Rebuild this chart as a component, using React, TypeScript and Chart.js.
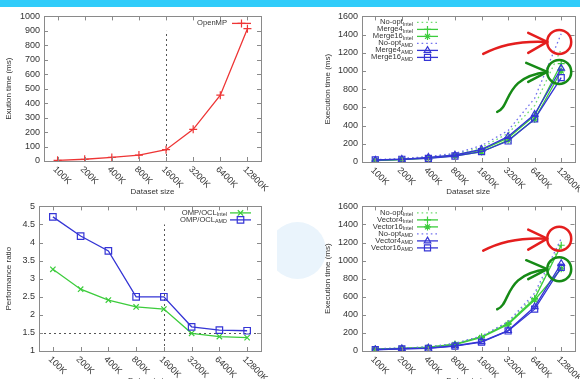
import React, { useEffect, useRef } from 'react';
import { Chart, registerables } from 'chart.js';

Chart.register(...registerables);

const FONT = '"Liberation Sans", Arial, Helvetica, sans-serif';
const INK = '#333333';
const FRAME = '#8a8a8a';
const RED = '#ee3535';
const GREEN = '#3ccc3c';
const GREEN_DOT = '#6fdc6f';
const BLUE = '#3535d5';
const BLUE_DOT = '#7272ee';
const MARK_RED = '#e41e1e';
const MARK_GREEN = '#168a16';

const categories = ['100K', '200K', '400K', '800K', '1600K', '3200K', '6400K', '12800K'];
const xAxisTitle = 'Dataset size';

// top-left: OpenMP
const openMPTime = [5, 12, 25, 41, 78, 219, 455, 915];

// top-right: Merge
const mergeNoOptIntel = [22, 35, 55, 88, 158, 315, 620, 1240];
const merge4Intel = [16, 28, 45, 72, 130, 265, 510, 1080];
const merge16Intel = [15, 27, 42, 68, 110, 240, 470, 1000];
const mergeNoOptAMD = [25, 38, 60, 95, 180, 345, 700, 1410];
const merge4AMD = [20, 29, 51, 77, 139, 279, 524, 1030];
const merge16AMD = [24, 30, 40, 66, 114, 231, 473, 927];
const mergeCircleValues = [1320, 990];

// bottom-left: performance ratio
const ratioIntel = [3.26, 2.71, 2.41, 2.22, 2.16, 1.49, 1.4, 1.37];
const ratioAMD = [4.71, 4.18, 3.77, 2.5, 2.5, 1.67, 1.58, 1.56];
const ratioThreshold = 1.5;

// bottom-right: Vector
const vectorNoOptIntel = [24, 32, 44, 82, 160, 315, 610, 1200];
const vector4Intel = [22, 30, 42, 77, 158, 305, 581, 1170];
const vector16Intel = [20, 28, 40, 72, 150, 295, 565, 910];
const vectorNoOptAMD = [25, 33, 45, 85, 165, 324, 640, 1245];
const vector4AMD = [15, 25, 32, 58, 103, 226, 489, 967];
const vector16AMD = [14, 24, 30, 55, 98, 222, 463, 925];
const vectorCircleValues = [1243, 905];

type PointKind = 'cross' | 'crossRot' | 'star' | 'triangle' | 'rect';
type S = { name: string; sub: string; values: number[]; color: string; dash?: number[]; point?: PointKind; radius?: number };
type Panel = {
  box: [number, number, number, number];
  yWidth: number; xHeight: number; padTop: number; padRight: number;
  yMin: number; yMax: number; yStep: number;
  yTitle: string; yTitleX: number; xTitleY: number;
  series: S[];
  legend: { side: 'left' | 'right'; textEnd: number; s0: number; s1: number; top: number; gap: number };
  vLine?: { at: number; to: number };
  hLine?: number;
  circles?: number[];
  bg?: string;
};

const DOT = [1.6, 3];

const panels: Panel[] = [
  {
    box: [0, 7, 290, 190], yWidth: 44, xHeight: 36, padTop: 9, padRight: 29,
    yMin: 0, yMax: 1000, yStep: 100,
    yTitle: 'Exution time (ms)', yTitleX: 9, xTitleY: 185,
    series: [{ name: 'OpenMP', sub: '', values: openMPTime, color: RED, point: 'cross', radius: 4 }],
    legend: { side: 'right', textEnd: -34, s0: -29, s1: -10, top: 7, gap: 7 },
    vLine: { at: 4, to: 900 },
  },
  {
    box: [290, 7, 290, 190], yWidth: 72, xHeight: 35, padTop: 9, padRight: 2,
    yMin: 0, yMax: 1600, yStep: 200,
    yTitle: 'Execution time (ms)', yTitleX: 38, xTitleY: 185,
    series: [
      { name: 'No-opt', sub: 'Intel', values: mergeNoOptIntel, color: GREEN_DOT, dash: DOT },
      { name: 'Merge4', sub: 'Intel', values: merge4Intel, color: GREEN, point: 'cross', radius: 3.5 },
      { name: 'Merge16', sub: 'Intel', values: merge16Intel, color: GREEN, point: 'star', radius: 3.5 },
      { name: 'No-opt', sub: 'AMD', values: mergeNoOptAMD, color: BLUE_DOT, dash: DOT },
      { name: 'Merge4', sub: 'AMD', values: merge4AMD, color: BLUE, point: 'triangle', radius: 3.8 },
      { name: 'Merge16', sub: 'AMD', values: merge16AMD, color: BLUE, point: 'rect', radius: 4.3 },
    ],
    legend: { side: 'left', textEnd: 51, s0: 55, s1: 76, top: 6, gap: 7 },
    circles: mergeCircleValues,
  },
  {
    box: [0, 197, 277, 182], yWidth: 39, xHeight: 28, padTop: 9, padRight: 16,
    yMin: 1, yMax: 5, yStep: 0.5,
    yTitle: 'Performance ratio', yTitleX: 9, xTitleY: 184,
    series: [
      { name: 'OMP/OCL', sub: 'Intel', values: ratioIntel, color: GREEN, point: 'crossRot', radius: 3.8 },
      { name: 'OMP/OCL', sub: 'AMD', values: ratioAMD, color: BLUE, point: 'rect', radius: 4.6 },
    ],
    legend: { side: 'right', textEnd: -34, s0: -31, s1: -10, top: 6.5, gap: 7 },
    vLine: { at: 4, to: 4.5 },
    hLine: ratioThreshold,
    bg: '#ffffff',
  },
  {
    box: [290, 197, 290, 182], yWidth: 72, xHeight: 28, padTop: 9, padRight: 2,
    yMin: 0, yMax: 1600, yStep: 200,
    yTitle: 'Execution time (ms)', yTitleX: 38, xTitleY: 184,
    series: [
      { name: 'No-opt', sub: 'Intel', values: vectorNoOptIntel, color: GREEN_DOT, dash: DOT },
      { name: 'Vector4', sub: 'Intel', values: vector4Intel, color: GREEN, point: 'cross', radius: 3.5 },
      { name: 'Vector16', sub: 'Intel', values: vector16Intel, color: GREEN, point: 'star', radius: 3.5 },
      { name: 'No-opt', sub: 'AMD', values: vectorNoOptAMD, color: BLUE_DOT, dash: DOT },
      { name: 'Vector4', sub: 'AMD', values: vector4AMD, color: BLUE, point: 'triangle', radius: 3.8 },
      { name: 'Vector16', sub: 'AMD', values: vector16AMD, color: BLUE, point: 'rect', radius: 4.3 },
    ],
    legend: { side: 'left', textEnd: 51, s0: 55, s1: 76, top: 6.5, gap: 7 },
    circles: vectorCircleValues,
  },
];

function drawMarker(ctx: CanvasRenderingContext2D, kind: PointKind, x: number, y: number, r: number, color: string) {
  ctx.save();
  ctx.strokeStyle = color;
  ctx.lineWidth = 1.2;
  ctx.setLineDash([]);
  ctx.beginPath();
  const d = r * Math.SQRT1_2;
  if (kind === 'cross' || kind === 'star') {
    ctx.moveTo(x - r, y); ctx.lineTo(x + r, y); ctx.moveTo(x, y - r); ctx.lineTo(x, y + r);
  }
  if (kind === 'crossRot' || kind === 'star') {
    ctx.moveTo(x - d, y - d); ctx.lineTo(x + d, y + d); ctx.moveTo(x + d, y - d); ctx.lineTo(x - d, y + d);
  }
  if (kind === 'triangle') {
    ctx.moveTo(x, y - r); ctx.lineTo(x + 0.866 * r, y + 0.5 * r); ctx.lineTo(x - 0.866 * r, y + 0.5 * r); ctx.closePath();
  }
  if (kind === 'rect') {
    ctx.rect(x - d, y - d, 2 * d, 2 * d);
  }
  ctx.stroke();
  ctx.restore();
}

function drawRedMark(ctx: CanvasRenderingContext2D, cx: number, cy: number) {
  ctx.strokeStyle = MARK_RED;
  ctx.beginPath(); ctx.arc(cx, cy, 12, 0, Math.PI * 2); ctx.stroke();
  ctx.beginPath(); ctx.moveTo(cx - 76, cy + 12); ctx.quadraticCurveTo(cx - 50, cy - 2, cx - 12, cy); ctx.stroke();
  ctx.beginPath(); ctx.moveTo(cx - 31, cy - 9); ctx.lineTo(cx - 12, cy); ctx.lineTo(cx - 31, cy + 11); ctx.stroke();
}

function drawGreenMark(ctx: CanvasRenderingContext2D, cx: number, cy: number) {
  ctx.strokeStyle = MARK_GREEN;
  ctx.beginPath(); ctx.arc(cx, cy, 12, 0, Math.PI * 2); ctx.stroke();
  ctx.beginPath(); ctx.moveTo(cx - 62, cy + 40); ctx.bezierCurveTo(cx - 48, cy + 35, cx - 56, cy + 5, cx - 12, cy); ctx.stroke();
  ctx.beginPath(); ctx.moveTo(cx - 33, cy - 9); ctx.lineTo(cx - 12, cy); ctx.lineTo(cx - 31, cy + 10); ctx.stroke();
}

function makePlugin(p: Panel) {
  return {
    id: 'panelDeco',
    beforeDatasetsDraw(chart: any) {
      const { ctx, chartArea: a, scales } = chart;
      const x = scales.x, y = scales.y;
      ctx.save();
      ctx.strokeStyle = '#555555';
      ctx.lineWidth = 1;
      ctx.setLineDash([2, 3]);
      if (p.vLine) {
        const px = Math.round(x.getPixelForValue(p.vLine.at)) + 0.5;
        ctx.beginPath(); ctx.moveTo(px, a.bottom); ctx.lineTo(px, y.getPixelForValue(p.vLine.to)); ctx.stroke();
      }
      if (p.hLine !== undefined) {
        const py = Math.round(y.getPixelForValue(p.hLine)) + 0.5;
        ctx.beginPath(); ctx.moveTo(a.left, py); ctx.lineTo(a.right, py); ctx.stroke();
      }
      ctx.restore();
    },
    afterDraw(chart: any) {
      const { ctx, chartArea: a, scales } = chart;
      const x = scales.x, y = scales.y;
      ctx.save();
      // frame
      ctx.strokeStyle = FRAME;
      ctx.lineWidth = 1;
      ctx.strokeRect(Math.round(a.left) + 0.5, Math.round(a.top) + 0.5, Math.round(a.right - a.left), Math.round(a.bottom - a.top));
      ctx.beginPath();
      y.ticks.forEach((t: any) => {
        const py = Math.round(y.getPixelForValue(t.value)) + 0.5;
        ctx.moveTo(a.left, py); ctx.lineTo(a.left + 4, py);
        ctx.moveTo(a.right, py); ctx.lineTo(a.right - 4, py);
      });
      categories.forEach((_, i) => {
        const px = Math.round(x.getPixelForValue(i)) + 0.5;
        ctx.moveTo(px, a.bottom); ctx.lineTo(px, a.bottom - 4);
        ctx.moveTo(px, a.top); ctx.lineTo(px, a.top + 4);
      });
      ctx.stroke();

      // rotated category labels
      ctx.fillStyle = INK;
      ctx.font = `9px ${FONT}`;
      ctx.textAlign = 'left';
      ctx.textBaseline = 'middle';
      categories.forEach((c, i) => {
        const px = x.getPixelForValue(i);
        ctx.save();
        ctx.translate(px - 3, a.bottom + 7);
        ctx.rotate(Math.PI / 4);
        ctx.fillText(c, 0, 0);
        ctx.restore();
      });

      // titles
      ctx.font = `8px ${FONT}`;
      ctx.textAlign = 'center';
      ctx.fillText(xAxisTitle, (a.left + a.right) / 2, p.xTitleY);
      ctx.save();
      ctx.translate(p.yTitleX, (a.top + a.bottom) / 2);
      ctx.rotate(-Math.PI / 2);
      ctx.fillText(p.yTitle, 0, 0);
      ctx.restore();

      // legend
      const L = p.legend;
      const base = L.side === 'right' ? a.right : a.left;
      p.series.forEach((s, k) => {
        const ry = a.top + L.top + k * L.gap;
        ctx.font = `7.6px ${FONT}`;
        const wMain = ctx.measureText(s.name).width;
        ctx.font = `5.4px ${FONT}`;
        const wSub = s.sub ? ctx.measureText(s.sub).width : 0;
        const start = base + L.textEnd - wMain - wSub;
        ctx.fillStyle = INK;
        ctx.textAlign = 'left';
        ctx.textBaseline = 'middle';
        ctx.font = `7.6px ${FONT}`;
        ctx.fillText(s.name, start, ry);
        if (s.sub) {
          ctx.font = `5.4px ${FONT}`;
          ctx.fillText(s.sub, start + wMain, ry + 2);
        }
        ctx.save();
        ctx.strokeStyle = s.color;
        ctx.lineWidth = 1.3;
        ctx.setLineDash(s.dash ?? []);
        ctx.beginPath();
        ctx.moveTo(base + L.s0, ry); ctx.lineTo(base + L.s1, ry);
        ctx.stroke();
        ctx.restore();
        if (s.point) drawMarker(ctx, s.point, base + (L.s0 + L.s1) / 2, ry, s.radius ?? 3.5, s.color);
      });

      // hand-drawn highlight marks
      if (p.circles) {
        ctx.lineWidth = 2.5;
        ctx.lineCap = 'round';
        ctx.lineJoin = 'round';
        ctx.setLineDash([]);
        const cx = x.getPixelForValue(categories.length - 1) - 2;
        drawRedMark(ctx, cx, y.getPixelForValue(p.circles[0]));
        drawGreenMark(ctx, cx, y.getPixelForValue(p.circles[1]));
      }
      ctx.restore();
    },
  };
}

function buildConfig(p: Panel): any {
  const datasets = p.series.map((s) => ({
    label: s.name + s.sub,
    data: s.values,
    borderColor: s.color,
    backgroundColor: 'rgba(0,0,0,0)',
    borderWidth: 1.3,
    borderDash: s.dash ?? [],
    pointStyle: s.point ?? 'circle',
    pointRadius: s.point ? s.radius ?? 3.5 : 0,
    pointBorderColor: s.color,
    pointBackgroundColor: 'rgba(0,0,0,0)',
    pointBorderWidth: 1.2,
    tension: 0,
    fill: false,
  }));
  return {
    type: 'line',
    data: { labels: categories, datasets: datasets.slice().reverse() },
    options: {
      animation: false,
      responsive: false,
      maintainAspectRatio: false,
      events: [],
      layout: { padding: { left: 0, right: p.padRight, top: p.padTop, bottom: 0 } },
      plugins: { legend: { display: false }, tooltip: { enabled: false }, title: { display: false } },
      scales: {
        x: {
          type: 'category',
          offset: true,
          ticks: { display: false },
          grid: { display: false, drawTicks: false },
          border: { display: false },
          afterFit: (s: any) => { s.height = p.xHeight; },
        },
        y: {
          type: 'linear',
          min: p.yMin,
          max: p.yMax,
          ticks: {
            stepSize: p.yStep,
            autoSkip: false,
            padding: 4,
            color: INK,
            font: { family: FONT, size: 9 },
            callback: (v: any) => String(Math.round(Number(v) * 100) / 100),
          },
          grid: { display: false, drawTicks: false },
          border: { display: false },
          afterFit: (s: any) => { s.width = p.yWidth; },
        },
      },
    },
    plugins: [makePlugin(p)],
  };
}

function PanelChart({ p }: { p: Panel }) {
  const ref = useRef<HTMLCanvasElement>(null);
  useEffect(() => {
    const chart = new Chart(ref.current as HTMLCanvasElement, buildConfig(p));
    return () => chart.destroy();
  }, [p]);
  const [l, t, w, h] = p.box;
  return (
    <canvas
      ref={ref}
      width={w}
      height={h}
      style={{ position: 'absolute', left: l, top: t, width: w, height: h, background: p.bg ?? 'transparent' }}
    />
  );
}

export default function App() {
  return (
    <div style={{ position: 'fixed', left: 0, top: 0, width: 580, height: 379, background: '#ffffff', overflow: 'hidden' }}>
      <div style={{ position: 'absolute', left: 0, top: 0, width: 580, height: 7, background: '#30ccfa' }} />
      <div style={{ position: 'absolute', left: 297 - 28.5, top: 250 - 28.5, width: 57, height: 57, borderRadius: '50%', background: '#eaf4fc' }} />
      {panels.map((p, i) => (
        <PanelChart key={i} p={p} />
      ))}
    </div>
  );
}
